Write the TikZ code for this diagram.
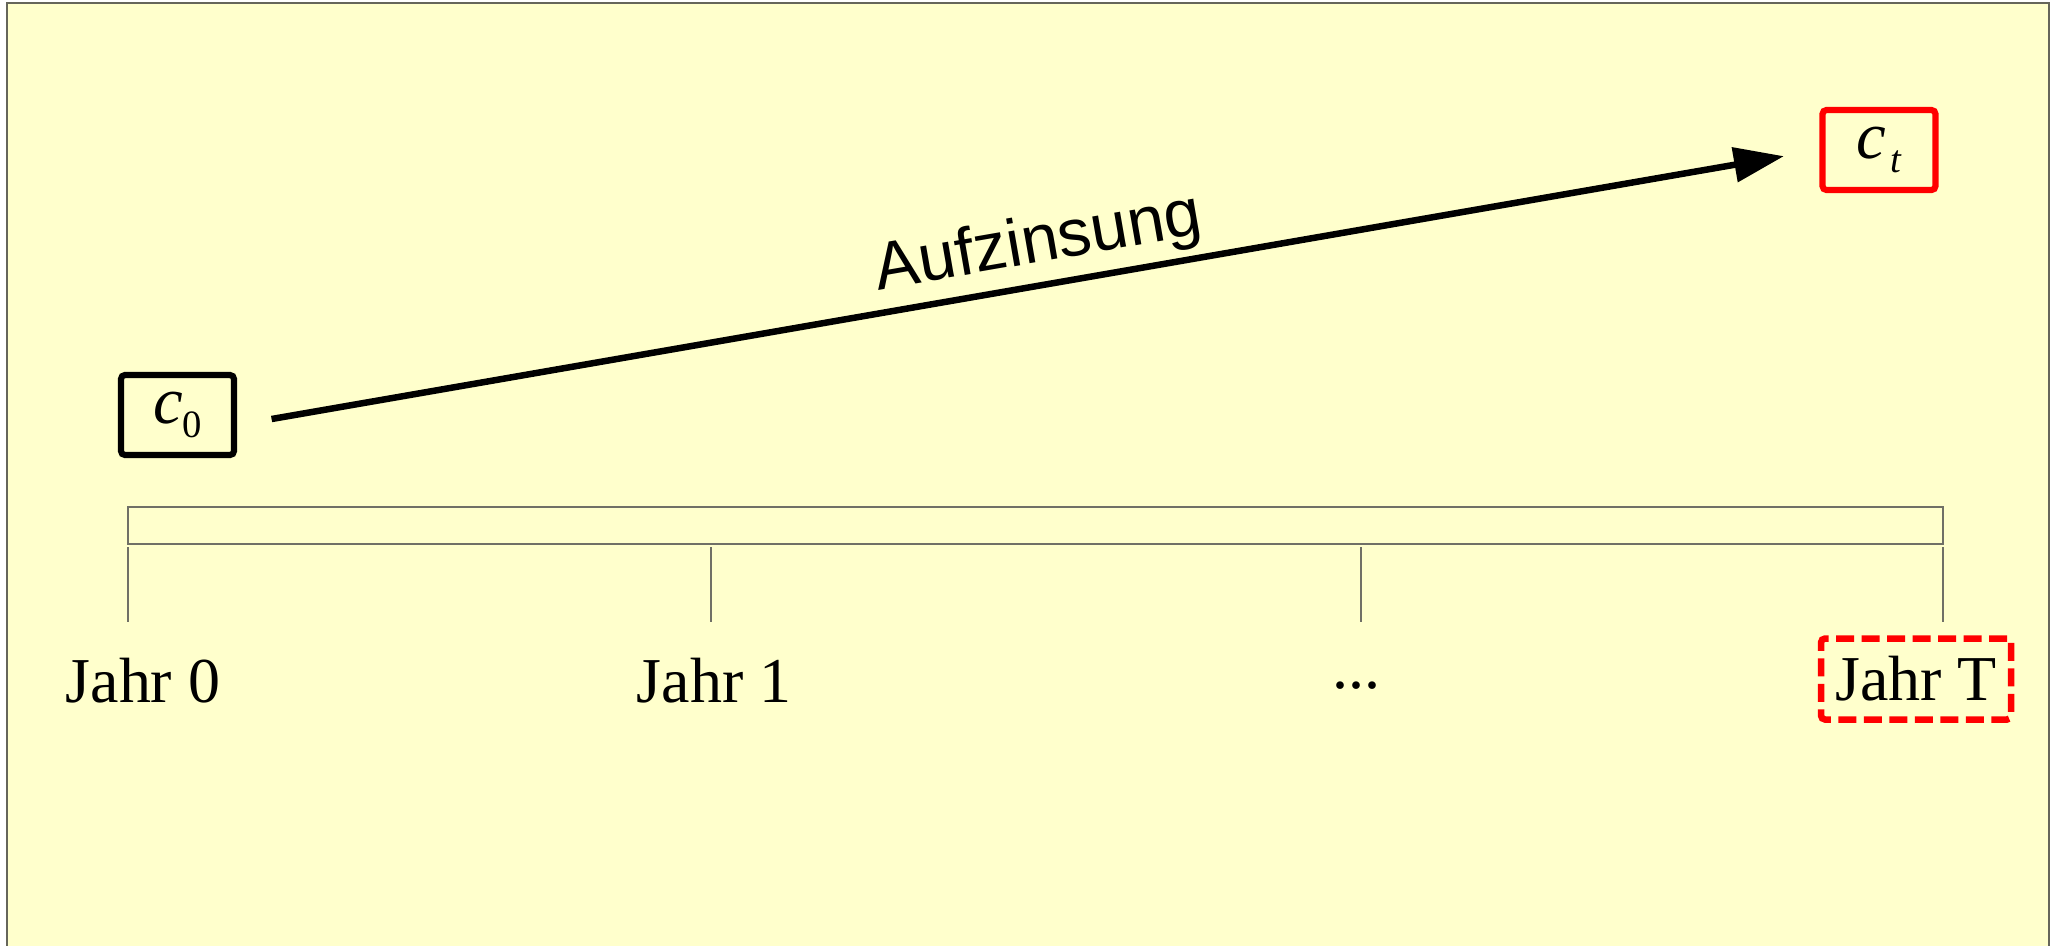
\documentclass[tikz,border=0pt]{standalone}
\usepackage{fontspec}
\setmainfont{Liberation Serif}
\newfontfamily\arialfont{Liberation Sans}
\usetikzlibrary{arrows.meta}
\definecolor{paleyellow}{HTML}{FFFFCC}
\definecolor{rimgray}{HTML}{66665A}
\definecolor{tickgray}{HTML}{707066}

\begin{document}
\begin{tikzpicture}[
    x=0.1mm, y=-0.1mm,
    every node/.style={font=\fontsize{18.2}{22}\selectfont},
    cashbox/.style={draw, line width=0.62mm, rounded corners=0.4mm, minimum width=11.3mm, minimum height=8mm, inner sep=0pt},
    yearlabel/.style={anchor=base, inner sep=0pt},
    aufzins/.style={draw, line width=0.65mm, -{Triangle[length=5mm, width=3.4mm]}},
    timeline/.style={draw=tickgray, line width=0.15mm}
  ]
  \useasboundingbox (0,0) rectangle (2050,945);
  \fill[paleyellow] (7,3) rectangle (2049,960);
  \draw[rimgray, line width=0.2mm] (7,3) rectangle (2049,960);

  \node[cashbox] (c0) at (177.5,415) {\fontsize{19}{22}\selectfont\textit{c}\raisebox{-1.4mm}{\fontsize{11}{11}\selectfont 0}};
  \node[cashbox, draw=red] (ct) at (1879,150) {\fontsize{19}{22}\selectfont\textit{c}\kern0.4mm\raisebox{-1.4mm}{\fontsize{11}{11}\selectfont\textit{t}}};

  \draw[aufzins, shorten <=3.5mm, shorten >=3.6mm] ([yshift=-1mm]c0.east) -- (ct.west)
    node[pos=0.511, sloped, above, inner sep=0.6mm, font=\arialfont\fontsize{19}{22}\selectfont] (zins) {Aufzinsung};

  \draw[timeline] (128,507) rectangle (1943,544);
  \foreach \tx in {128, 711, 1361, 1943}
    \draw[timeline] (\tx,547) -- (\tx,622);

  \node[yearlabel] (j0) at (143,702) {Jahr 0};
  \node[yearlabel] (j1) at (714,702) {Jahr 1};
  \node[yearlabel] (dots) at (1356,688) {...};
  \node[draw=red, line width=0.65mm, dash pattern=on 1.8mm off 0.75mm, rounded corners=0.4mm,
        minimum width=19mm, minimum height=8.1mm, inner sep=0pt] (jT) at (1916,679) {Jahr T};
\end{tikzpicture}
\end{document}
